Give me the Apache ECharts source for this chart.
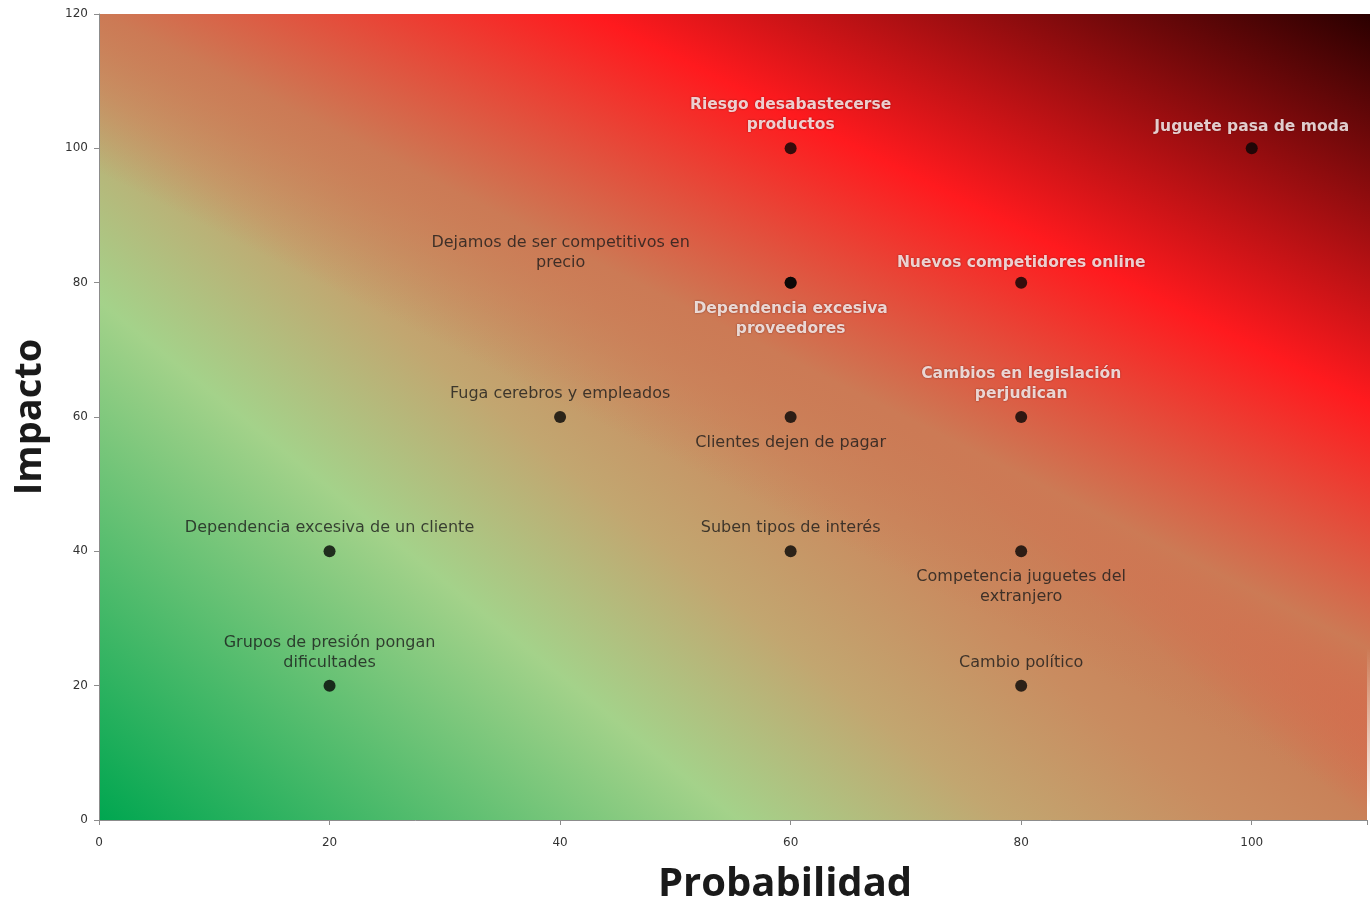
<!DOCTYPE html>
<html>
<head>
<meta charset="utf-8">
<script src="https://cdn.jsdelivr.net/npm/echarts@6/dist/echarts.min.js"></script>
<style>
html,body{margin:0;padding:0;background:#fff;overflow:hidden;}
#chart{width:1370px;height:910px;}
</style>
</head>
<body>
<div id="chart"></div>
<script>
// ---- data ----
const riskNames = [
  'Riesgo desabastecerse\nproductos',
  'Juguete pasa de moda',
  'Dejamos de ser competitivos en\nprecio',
  'Dependencia excesiva\nproveedores',
  'Nuevos competidores online',
  'Fuga cerebros y empleados',
  'Clientes dejen de pagar',
  'Cambios en legislación\nperjudican',
  'Dependencia excesiva de un cliente',
  'Suben tipos de interés',
  'Competencia juguetes del\nextranjero',
  'Grupos de presión pongan\ndificultades',
  'Cambio político'
];
const probabilidad = [60, 100, 60, 60, 80, 40, 60, 80, 20, 60, 80, 20, 80];
const impacto      = [100, 100, 80, 80, 80, 60, 60, 60, 40, 40, 40, 20, 20];
const xTicks = [0, 20, 40, 60, 80, 100];
const yTicks = [0, 20, 40, 60, 80, 100, 120];

// ---- label styling (by index) ----
const whiteBold = {color:'#ffffff', fontWeight:'bold', fontSize:15.5, textShadowColor:'rgba(70,0,0,0.7)', textShadowBlur:2};
const darkNormal = {color:'#1a1a1a', fontWeight:'normal', fontSize:16};
const labelStyles = [
  Object.assign({position:'top', distance:7}, whiteBold),
  Object.assign({position:'top', distance:5}, whiteBold),
  Object.assign({position:'top', distance:4}, darkNormal),
  Object.assign({position:'bottom', distance:10}, whiteBold),
  Object.assign({position:'top', distance:4}, whiteBold),
  Object.assign({position:'top', distance:7}, darkNormal),
  Object.assign({position:'bottom', distance:10}, darkNormal),
  Object.assign({position:'top', distance:7}, whiteBold),
  Object.assign({position:'top', distance:7}, darkNormal),
  Object.assign({position:'top', distance:7}, darkNormal),
  Object.assign({position:'bottom', distance:10}, darkNormal),
  Object.assign({position:'top', distance:7}, darkNormal),
  Object.assign({position:'top', distance:7}, darkNormal)
];
const labelShiftX = {2: -230};

const seriesData = riskNames.map((n, i) => ({
  name: n,
  value: [probabilidad[i], impacto[i]],
  label: Object.assign({show:true, formatter: n, lineHeight:20,
    fontFamily:'DejaVu Sans, sans-serif', align:'center'}, labelStyles[i])
}));

const chartEl = document.getElementById('chart');
const chart = echarts.init(chartEl, null, {renderer:'canvas'});
const gl = 99, gr = 0, gt = 14, gb = 87;
const W = chart.getWidth() - gl - gr, H = chart.getHeight() - gt - gb;

// linear gradient (start bottom-left) where t = a*px + b*py (px, py in 0..1 of the plot box)
function diagGradient(a, b, stops) {
  const al = a / W, be = b / H;
  const n = al * al + be * be;
  const vx = al / n, vy = be / n;
  return new echarts.graphic.LinearGradient(0, 1, vx / W, 1 - vy / H, stops);
}
const baseFill = diagGradient(0.56, 0.44, [
  {offset: 0, color: '#00a650'},
  {offset: 0.283, color: '#a4d28a'},
  {offset: 0.40, color: '#c2a670'},
  {offset: 0.50, color: '#c98c60'},
  {offset: 0.56, color: '#c98259'},
  {offset: 0.75, color: '#ff1a1e'},
  {offset: 1, color: '#2a0000'}
]);
const topFill = diagGradient(0.44, 0.56, [
  {offset: 0, color: 'rgba(204,122,85,0)'},
  {offset: 0.45, color: 'rgba(204,122,85,0)'},
  {offset: 0.56, color: 'rgba(204,122,85,1)'},
  {offset: 0.73, color: '#ff1a1e'},
  {offset: 1, color: '#2a0000'}
]);

const option = {
  animation: false,
  graphic: [{type: 'rect', left: gl, top: gt, z: -10, silent: true,
    shape: {width: W, height: H}, style: {fill: topFill}}],
  grid: {left: gl, right: gr, top: gt, bottom: gb, show: true, borderWidth: 0, z: -20,
    backgroundColor: baseFill},
  xAxis: {
    type: 'value', min: 0, max: 110, interval: 20,
    name: 'Probabilidad', nameLocation: 'middle', nameGap: 45,
    nameTextStyle: {fontFamily: 'Open Sans', fontWeight: 'bold', fontSize: 40, color: '#1a1a1a', padding: [0, 0, 0, 104]},
    axisLine: {show: true, lineStyle: {color: '#8c8c8c', width: 1}},
    axisTick: {show: true, length: 5, lineStyle: {color: '#8c8c8c'}},
    axisLabel: {color: '#333', fontSize: 12, margin: 17, fontFamily: 'DejaVu Sans',
      formatter: v => (xTicks.indexOf(v) >= 0 ? String(v) : '')},
    splitLine: {show: false}
  },
  yAxis: {
    type: 'value', min: 0, max: 120, interval: 20,
    name: 'Impacto', nameLocation: 'middle', nameGap: 50, nameRotate: 90,
    nameTextStyle: {fontFamily: 'Open Sans', fontWeight: 'bold', fontSize: 38, color: '#1a1a1a'},
    axisLine: {show: true, lineStyle: {color: '#8c8c8c', width: 1}},
    axisTick: {show: true, length: 5, lineStyle: {color: '#8c8c8c'}},
    axisLabel: {color: '#333', fontSize: 12, margin: 11, fontFamily: 'DejaVu Sans',
      formatter: v => (yTicks.indexOf(v) >= 0 ? String(v) : '')},
    splitLine: {show: false}
  },
  series: [{
    type: 'scatter',
    symbol: 'circle',
    symbolSize: 12,
    itemStyle: {color: '#050505'},
    data: seriesData,
    labelLayout: function (p) {
      const dx = labelShiftX[p.dataIndex];
      return dx ? {dx: dx} : {};
    }
  }]
};
chart.setOption(option);
</script>
</body>
</html>
